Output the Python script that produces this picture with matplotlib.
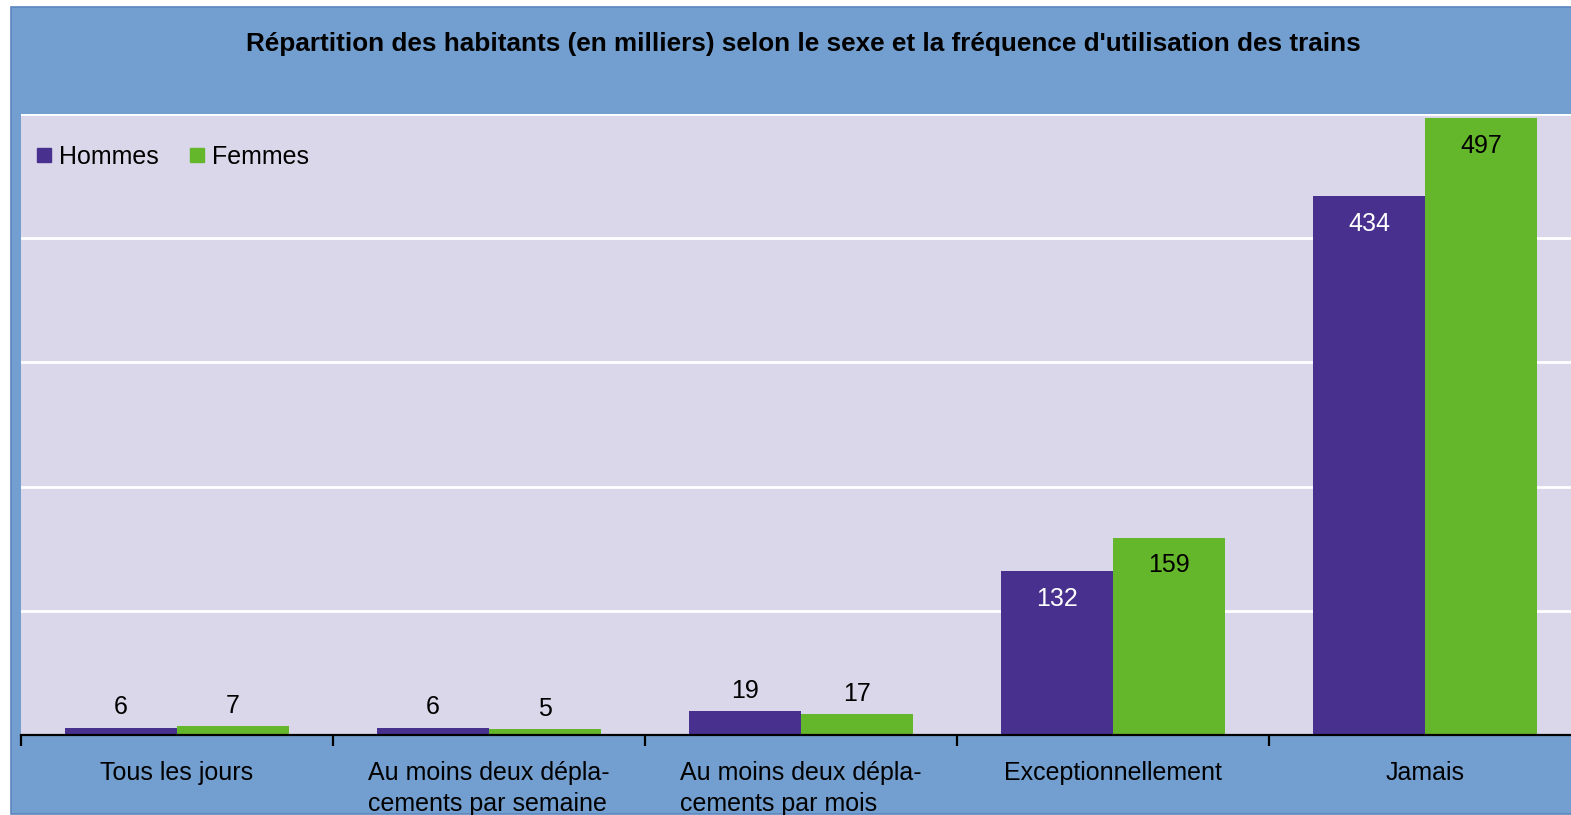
import numpy as np
import matplotlib
matplotlib.use("Agg")
import matplotlib.pyplot as plt
from matplotlib.patches import Rectangle
from matplotlib.lines import Line2D

plt.rcParams['font.family'] = ['Liberation Sans', 'DejaVu Sans']

# data
categories = ["Tous les jours",
              "Au moins deux dépla-\ncements par semaine",
              "Au moins deux dépla-\ncements par mois",
              "Exceptionnellement",
              "Jamais"]
hommes = [6, 6, 19, 132, 434]
femmes = [7, 5, 17, 159, 497]
series_names = ["Hommes", "Femmes"]
title = "Répartition des habitants (en milliers) selon le sexe et la fréquence d'utilisation des trains"

c_blue = '#729fcf'
c_lav = '#dad7ea'
c_h = '#48308e'
c_f = '#64b62a'

W, H = 1571, 815
fig = plt.figure(figsize=(W / 100, H / 100), dpi=100, facecolor='white')

# blue panel behind everything (runs off the right edge like the original)
fig.patches.append(Rectangle((11 / W, 1.5 / H), (W + 20) / W, (813 - 6.5) / H,
                             transform=fig.transFigure, facecolor=c_blue,
                             edgecolor='#5a86bd', linewidth=1.2, zorder=-10))

ax = fig.add_axes([21 / W, (H - 735) / H, 1560 / W, 621 / H])
ax.set_zorder(1)
ax.set_facecolor(c_lav)

x = np.arange(len(categories))
w = 0.359
b1 = ax.bar(x - w / 2, hommes, w, color=c_h, zorder=3)
b2 = ax.bar(x + w / 2, femmes, w, color=c_f, zorder=3)

ax.set_xlim(-0.5, len(categories) - 0.5)
ax.set_ylim(0, 500)
ax.set_yticks(np.arange(0, 501, 100))
ax.yaxis.grid(True, color='white', linewidth=2, zorder=1)
ax.set_axisbelow(True)
ax.tick_params(axis='y', left=False, labelleft=False)

for s in ['left', 'right', 'top']:
    ax.spines[s].set_visible(False)
ax.spines['bottom'].set_color('black')
ax.spines['bottom'].set_linewidth(1.6)
ax.spines['bottom'].set_zorder(4)

# ticks between categories, labels centered
ax.set_xticks(np.arange(-0.5, len(categories), 1.0))
ax.set_xticklabels([])
ax.tick_params(axis='x', which='major', direction='out', length=8, width=1.6, color='black')
ax.set_xticks(x, minor=True)
ax.set_xticklabels(categories, minor=True, fontsize=18, multialignment='left',
                   linespacing=1.35)
ax.tick_params(axis='x', which='minor', length=0, pad=19)

# value labels
for bars, vals, incol in [(b1, hommes, 'white'), (b2, femmes, 'black')]:
    for r, v in zip(bars, vals):
        cx = r.get_x() + r.get_width() / 2
        if v > 100:
            ax.annotate(str(v), (cx, v), xytext=(0, -20), textcoords='offset points',
                        ha='center', va='center', fontsize=18, color=incol, zorder=5)
        else:
            ax.annotate(str(v), (cx, v), xytext=(0, 14.5), textcoords='offset points',
                        ha='center', va='center', fontsize=18, color='black', zorder=5)

fig.text(803 / W, 1 - 44 / H, title, ha='center', va='center',
         fontsize=18.8, fontweight='bold')

handles = [Line2D([], [], linestyle='none', marker='s', markersize=10, color=c)
           for c in [c_h, c_f]]
ax.legend(handles, series_names, loc='center left',
          bbox_to_anchor=(36 / W, 1 - 157 / H), bbox_transform=fig.transFigure,
          ncol=2, frameon=False, fontsize=18, borderpad=0, borderaxespad=0,
          handlelength=0.65, handletextpad=0.28, columnspacing=1.18)

fig.savefig('out.png', dpi=100, facecolor='white')
